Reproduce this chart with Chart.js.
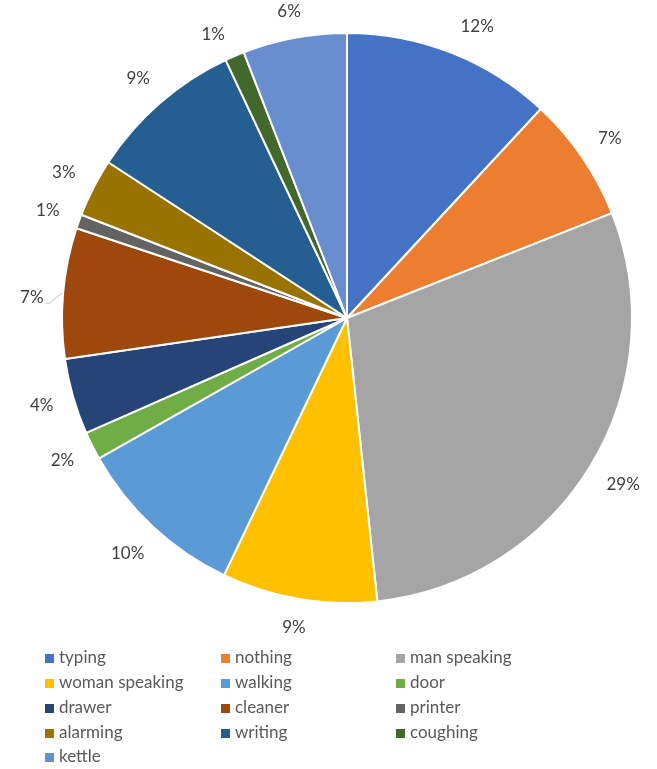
<!DOCTYPE html>
<html>
<head>
<meta charset="utf-8">
<script src="https://cdn.jsdelivr.net/npm/chart.js@4.4.1/dist/chart.umd.min.js"></script>
<style>
  html, body { margin: 0; padding: 0; background: #fff; }
  #wrap { width: 657px; height: 769px; position: relative; }
</style>
</head>
<body>
<div id="wrap"><canvas id="myChart" width="657" height="769"></canvas></div>
<script>
// sound categories and their share of the pie
const labels = ["typing", "nothing", "man speaking", "woman speaking", "walking", "door",
  "drawer", "cleaner", "printer", "alarming", "writing", "coughing", "kettle"];
const values = [11.9, 7.1, 29.3, 8.8, 9.7, 1.6, 4.3, 7.4, 0.8, 3.3, 8.8, 1.1, 5.9];
const colors = ["#4472C4", "#ED7D31", "#A5A5A5", "#FFC000", "#5B9BD5", "#70AD47",
  "#264478", "#9E480E", "#636363", "#997300", "#255E91", "#43682B", "#698ED0"];

const TEXT = "#595959";
const FONT = "Lato, 'Liberation Sans', sans-serif";

// percentage labels outside each slice
const outLabels = {
  id: "outLabels",
  afterDatasetsDraw(chart) {
    const ctx = chart.ctx;
    const meta = chart.getDatasetMeta(0);
    const total = values.reduce((a, b) => a + b, 0);
    // small nudges where the labels were shifted to avoid crowding
    const nudge = { typing: [14, 5], coughing: [-9, 7], cleaner: [0, 7] };
    ctx.save();
    ctx.font = "17px " + FONT;
    ctx.fillStyle = "#404040";
    ctx.textAlign = "center";
    ctx.textBaseline = "middle";
    meta.data.forEach((arc, i) => {
      const p = arc.getProps(["x", "y", "startAngle", "endAngle", "outerRadius"], true);
      const mid = (p.startAngle + p.endAngle) / 2;
      const txt = Math.round(values[i] / total * 100) + "%";
      const w = ctx.measureText(txt).width;
      const c = Math.cos(mid), s = Math.sin(mid);
      const r = p.outerRadius + 19 + Math.abs(c) * w / 2 + Math.abs(s) * 8.5;
      let tx = p.x + c * r;
      let ty = Math.max(12, p.y + s * r);
      const n = nudge[labels[i]];
      if (n) { tx += n[0]; ty += n[1]; }
      if (labels[i] === "cleaner") {
        ctx.strokeStyle = "#bfbfbf";
        ctx.lineWidth = 1;
        ctx.beginPath();
        ctx.moveTo(tx + w / 2 + 2, ty + 6);
        ctx.lineTo(tx + w / 2 + 6, ty + 6);
        ctx.lineTo(p.x + c * (p.outerRadius + 1), p.y + s * (p.outerRadius + 1));
        ctx.stroke();
      }
      ctx.fillText(txt, tx, ty);
    });
    ctx.restore();
  }
};

// three-column legend under the pie
const gridLegend = {
  id: "gridLegend",
  afterDraw(chart) {
    const ctx = chart.ctx;
    const colX = [45, 221, 396];
    const rowY = [658, 683, 708, 733, 757];
    ctx.save();
    ctx.font = "17px " + FONT;
    ctx.textBaseline = "middle";
    ctx.textAlign = "left";
    labels.forEach((lab, i) => {
      const x = colX[i % 3];
      const y = rowY[Math.floor(i / 3)];
      ctx.fillStyle = colors[i];
      ctx.fillRect(x, y - 4, 9, 9);
      ctx.fillStyle = TEXT;
      ctx.fillText(lab, x + 14, y);
    });
    ctx.restore();
  }
};

const config = {
  type: "pie",
  data: {
    labels: labels,
    datasets: [{
      data: values,
      backgroundColor: colors,
      borderColor: "#ffffff",
      borderWidth: 2
    }]
  },
  options: {
    responsive: false,
    animation: false,
    layout: { padding: { left: 61, right: 24, top: 32, bottom: 165 } },
    plugins: {
      legend: { display: false },
      tooltip: { enabled: false }
    }
  },
  plugins: [outLabels, gridLegend]
};

const myChart = new Chart(document.getElementById("myChart"), config);
</script>
</body>
</html>
